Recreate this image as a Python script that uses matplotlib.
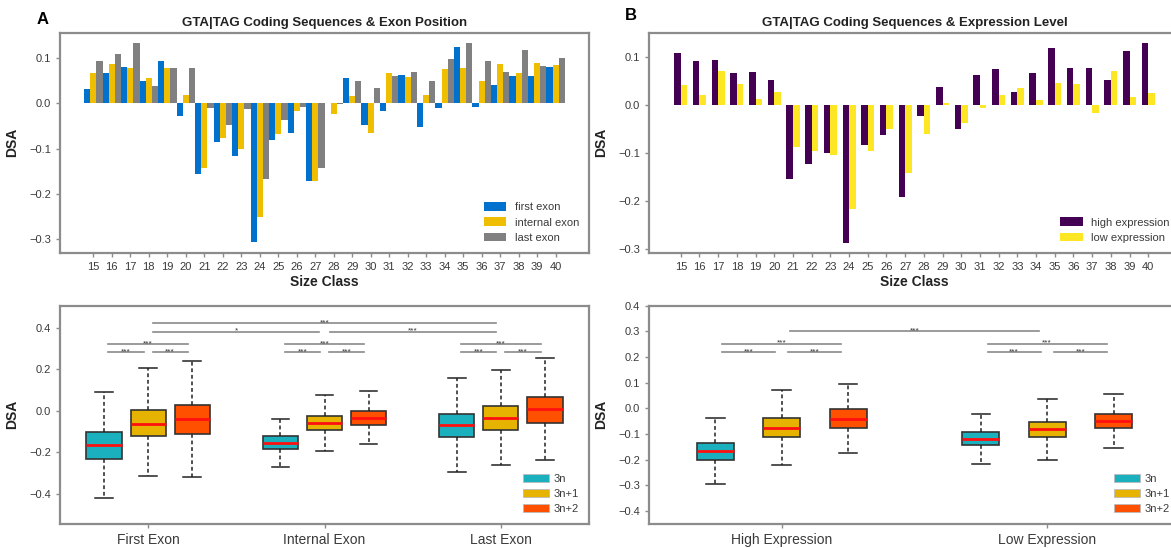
import matplotlib.pyplot as plt
import numpy as np
from matplotlib.patches import Patch

plt.rcParams['font.family'] = ['Liberation Sans', 'DejaVu Sans']
plt.rcParams['axes.unicode_minus'] = True

# DSA per size class, split by exon position
size_class = list(range(15, 41))
first_exon = [0.032, 0.066, 0.081, 0.050, 0.093, -0.029, -0.156, -0.086, -0.116, -0.307,
              -0.082, -0.065, -0.172, 0.001, 0.055, -0.048, -0.017, 0.062, -0.053, -0.010,
              0.125, -0.009, 0.040, 0.059, 0.060, 0.081]
internal_exon = [0.066, 0.087, 0.077, 0.055, 0.077, 0.018, -0.142, -0.077, -0.101, -0.251,
                 -0.068, -0.018, -0.172, -0.024, 0.015, -0.065, 0.066, 0.057, 0.018, 0.075,
                 0.077, 0.048, 0.087, 0.066, 0.088, 0.085]
last_exon = [0.093, 0.109, 0.132, 0.037, 0.077, 0.077, -0.011, -0.049, -0.013, -0.167,
             -0.037, -0.009, -0.142, -0.002, 0.050, 0.033, 0.060, 0.070, 0.050, 0.097,
             0.132, 0.093, 0.070, 0.118, 0.083, 0.099]

# DSA per size class, split by expression level
high_expr = [0.110, 0.092, 0.095, 0.067, 0.069, 0.052, -0.153, -0.122, -0.099, -0.287,
             -0.083, -0.062, -0.190, -0.022, 0.039, -0.050, 0.064, 0.076, 0.029, 0.067,
             0.119, 0.078, 0.078, 0.052, 0.114, 0.130]
low_expr = [0.043, 0.022, 0.072, 0.045, 0.013, 0.029, -0.087, -0.094, -0.104, -0.215,
            -0.094, -0.050, -0.141, -0.059, 0.005, -0.036, -0.006, 0.022, 0.036, 0.011,
            0.046, 0.045, -0.015, 0.071, 0.018, 0.025]

# box summaries: (whisker low, Q1, median, Q3, whisker high)
exon_groups = ['First Exon', 'Internal Exon', 'Last Exon']
exon_3n = [(-0.421, -0.230, -0.165, -0.104, 0.092),
           (-0.273, -0.185, -0.156, -0.124, -0.040),
           (-0.293, -0.128, -0.067, -0.015, 0.156)]
exon_3n1 = [(-0.316, -0.124, -0.064, 0.005, 0.206),
            (-0.196, -0.093, -0.059, -0.027, 0.075),
            (-0.262, -0.092, -0.035, 0.024, 0.196)]
exon_3n2 = [(-0.321, -0.112, -0.040, 0.027, 0.238),
            (-0.161, -0.069, -0.035, 0.000, 0.096),
            (-0.239, -0.061, 0.006, 0.067, 0.252)]

expr_groups = ['High Expression', 'Low Expression']
expr_3n = [(-0.294, -0.201, -0.164, -0.134, -0.036),
           (-0.216, -0.144, -0.118, -0.092, -0.021)]
expr_3n1 = [(-0.221, -0.110, -0.075, -0.036, 0.073),
            (-0.199, -0.110, -0.082, -0.052, 0.038)]
expr_3n2 = [(-0.173, -0.075, -0.040, -0.004, 0.097),
            (-0.156, -0.078, -0.047, -0.023, 0.057)]

frame_labels = ['3n', '3n+1', '3n+2']
box_colors = ['#1BB0BE', '#E6B400', '#FF5000']

spine_color = '#8c8c8c'
text_color = '#3a3a3a'

fig = plt.figure(figsize=(11.71, 5.48), dpi=100)
W, H = 1171, 548


def place(x0, y0, x1, y1):
    # axes rectangle given in pixel coordinates (top-left origin)
    return fig.add_axes([x0 / W, 1 - y1 / H, (x1 - x0) / W, (y1 - y0) / H])


def style(ax):
    for s in ax.spines.values():
        s.set_color(spine_color)
        s.set_linewidth(1.6)
    ax.tick_params(colors=spine_color, labelcolor=text_color, labelsize=8, length=3, width=1)


axA = place(60, 33, 589, 252.7)
axB = place(649, 33, 1180, 252.7)
axC = place(60, 305.7, 589, 524)
axD = place(649, 305.7, 1180, 524)
for ax in (axA, axB, axC, axD):
    style(ax)

# --- A: exon position bars
x = np.array(size_class)
bw = 1 / 3
axA.bar(x - bw, first_exon, bw, color='#0072CE', label='first exon')
axA.bar(x, internal_exon, bw, color='#F0BE00', label='internal exon')
axA.bar(x + bw, last_exon, bw, color='#808080', label='last exon')
axA.set_xlim(13.2, 41.8)
axA.set_ylim(-0.33, 0.155)
axA.set_xticks(size_class)
axA.set_yticks([-0.3, -0.2, -0.1, 0.0, 0.1])
axA.set_title('GTA|TAG Coding Sequences & Exon Position', fontsize=9.5,
              fontweight='bold', color='#222222', pad=5)
axA.set_xlabel('Size Class', fontsize=10, fontweight='bold', color='#222222', labelpad=2)
axA.set_ylabel('DSA', fontsize=10, fontweight='bold', color='#222222')
axA.yaxis.set_label_coords(-0.077, 0.5)
axA.legend(loc='lower right', frameon=False, fontsize=8, handlelength=2.0,
           handleheight=0.8, labelspacing=0.45, labelcolor=text_color)

# --- B: expression level bars
bw2 = 0.35
axB.bar(x - bw2 / 2, high_expr, bw2, color='#440154', label='high expression')
axB.bar(x + bw2 / 2, low_expr, bw2, color='#FDE725', label='low expression')
axB.set_xlim(13.3, 41.7)
axB.set_ylim(-0.307, 0.151)
axB.set_xticks(size_class)
axB.set_yticks([-0.3, -0.2, -0.1, 0.0, 0.1])
axB.set_title('GTA|TAG Coding Sequences & Expression Level', fontsize=9.5,
              fontweight='bold', color='#222222', pad=5)
axB.set_xlabel('Size Class', fontsize=10, fontweight='bold', color='#222222', labelpad=2)
axB.set_ylabel('DSA', fontsize=10, fontweight='bold', color='#222222')
axB.yaxis.set_label_coords(-0.077, 0.5)
axB.legend(loc='lower right', frameon=False, fontsize=8, handlelength=2.0,
           handleheight=0.8, labelspacing=0.45, labelcolor=text_color)


def draw_boxes(ax, series, offset, width):
    for k, (vals, color) in enumerate(zip(series, box_colors)):
        stats = [dict(whislo=v[0], q1=v[1], med=v[2], q3=v[3], whishi=v[4]) for v in vals]
        pos = np.arange(len(vals)) + (k - 1) * offset
        ax.bxp(stats, positions=pos, widths=width, showfliers=False, patch_artist=True,
               manage_ticks=False,
               boxprops=dict(facecolor=color, edgecolor='#333333', linewidth=1.2),
               medianprops=dict(color='#FF1010', linewidth=2),
               whiskerprops=dict(color='#222222', linestyle=(0, (2.5, 1.8)), linewidth=1.1),
               capprops=dict(color='#222222', linewidth=1.1))


def bracket(ax, x0, x1, y, label, shrink=0.025):
    ax.plot([x0 + shrink, x1 - shrink], [y, y], color='#8a8a8a', lw=1.2)
    ax.text((x0 + x1) / 2, y - 0.004, label, ha='center', va='baseline',
            fontsize=6, color='#333333')


def box_legend(ax):
    handles = [Patch(facecolor=c, edgecolor='#bbbbbb', linewidth=0.6) for c in box_colors]
    ax.legend(handles, frame_labels, loc='lower right', frameon=False, fontsize=8,
              handlelength=2.4, handleheight=0.7, labelspacing=0.45,
              handletextpad=0.4, labelcolor=text_color)


# --- C: frame classes by exon position
off_c = 0.25
draw_boxes(axC, [exon_3n, exon_3n1, exon_3n2], off_c, 0.2)
for g in range(len(exon_groups)):
    bracket(axC, g - off_c, g, 0.28, '***')
    bracket(axC, g, g + off_c, 0.28, '***')
    bracket(axC, g - off_c, g + off_c, 0.32, '***')
bracket(axC, 0, 1, 0.38, '*', shrink=0.03)
bracket(axC, 1, 2, 0.38, '***', shrink=0.03)
bracket(axC, 0, 2, 0.42, '***', shrink=0.03)
axC.set_xlim(-0.5, 2.5)
axC.set_ylim(-0.545, 0.505)
axC.set_xticks(range(len(exon_groups)))
axC.set_xticklabels(exon_groups)
axC.set_yticks([-0.4, -0.2, 0.0, 0.2, 0.4])
axC.tick_params(axis='x', labelsize=10)
axC.set_ylabel('DSA', fontsize=10, fontweight='bold', color='#222222')
axC.yaxis.set_label_coords(-0.077, 0.5)
box_legend(axC)

# --- D: frame classes by expression level
off_d = 0.25
draw_boxes(axD, [expr_3n, expr_3n1, expr_3n2], off_d, 0.14)
for g in range(len(expr_groups)):
    bracket(axD, g - off_d, g, 0.22, '***')
    bracket(axD, g, g + off_d, 0.22, '***')
    bracket(axD, g - off_d, g + off_d, 0.252, '***')
bracket(axD, 0, 1, 0.30, '***', shrink=0.03)
axD.set_xlim(-0.5, 1.5)
axD.set_ylim(-0.45, 0.4)
axD.set_xticks(range(len(expr_groups)))
axD.set_xticklabels(expr_groups)
axD.set_yticks(np.round(np.arange(-0.4, 0.41, 0.1), 1))
axD.tick_params(axis='x', labelsize=10)
axD.set_ylabel('DSA', fontsize=10, fontweight='bold', color='#222222')
axD.yaxis.set_label_coords(-0.077, 0.5)
box_legend(axD)

fig.text(43 / W, 1 - 20 / H, 'A', fontsize=12, fontweight='bold', ha='center', va='center')
fig.text(631 / W, 1 - 15 / H, 'B', fontsize=12, fontweight='bold', ha='center', va='center')

fig.savefig('out.png', dpi=100)
